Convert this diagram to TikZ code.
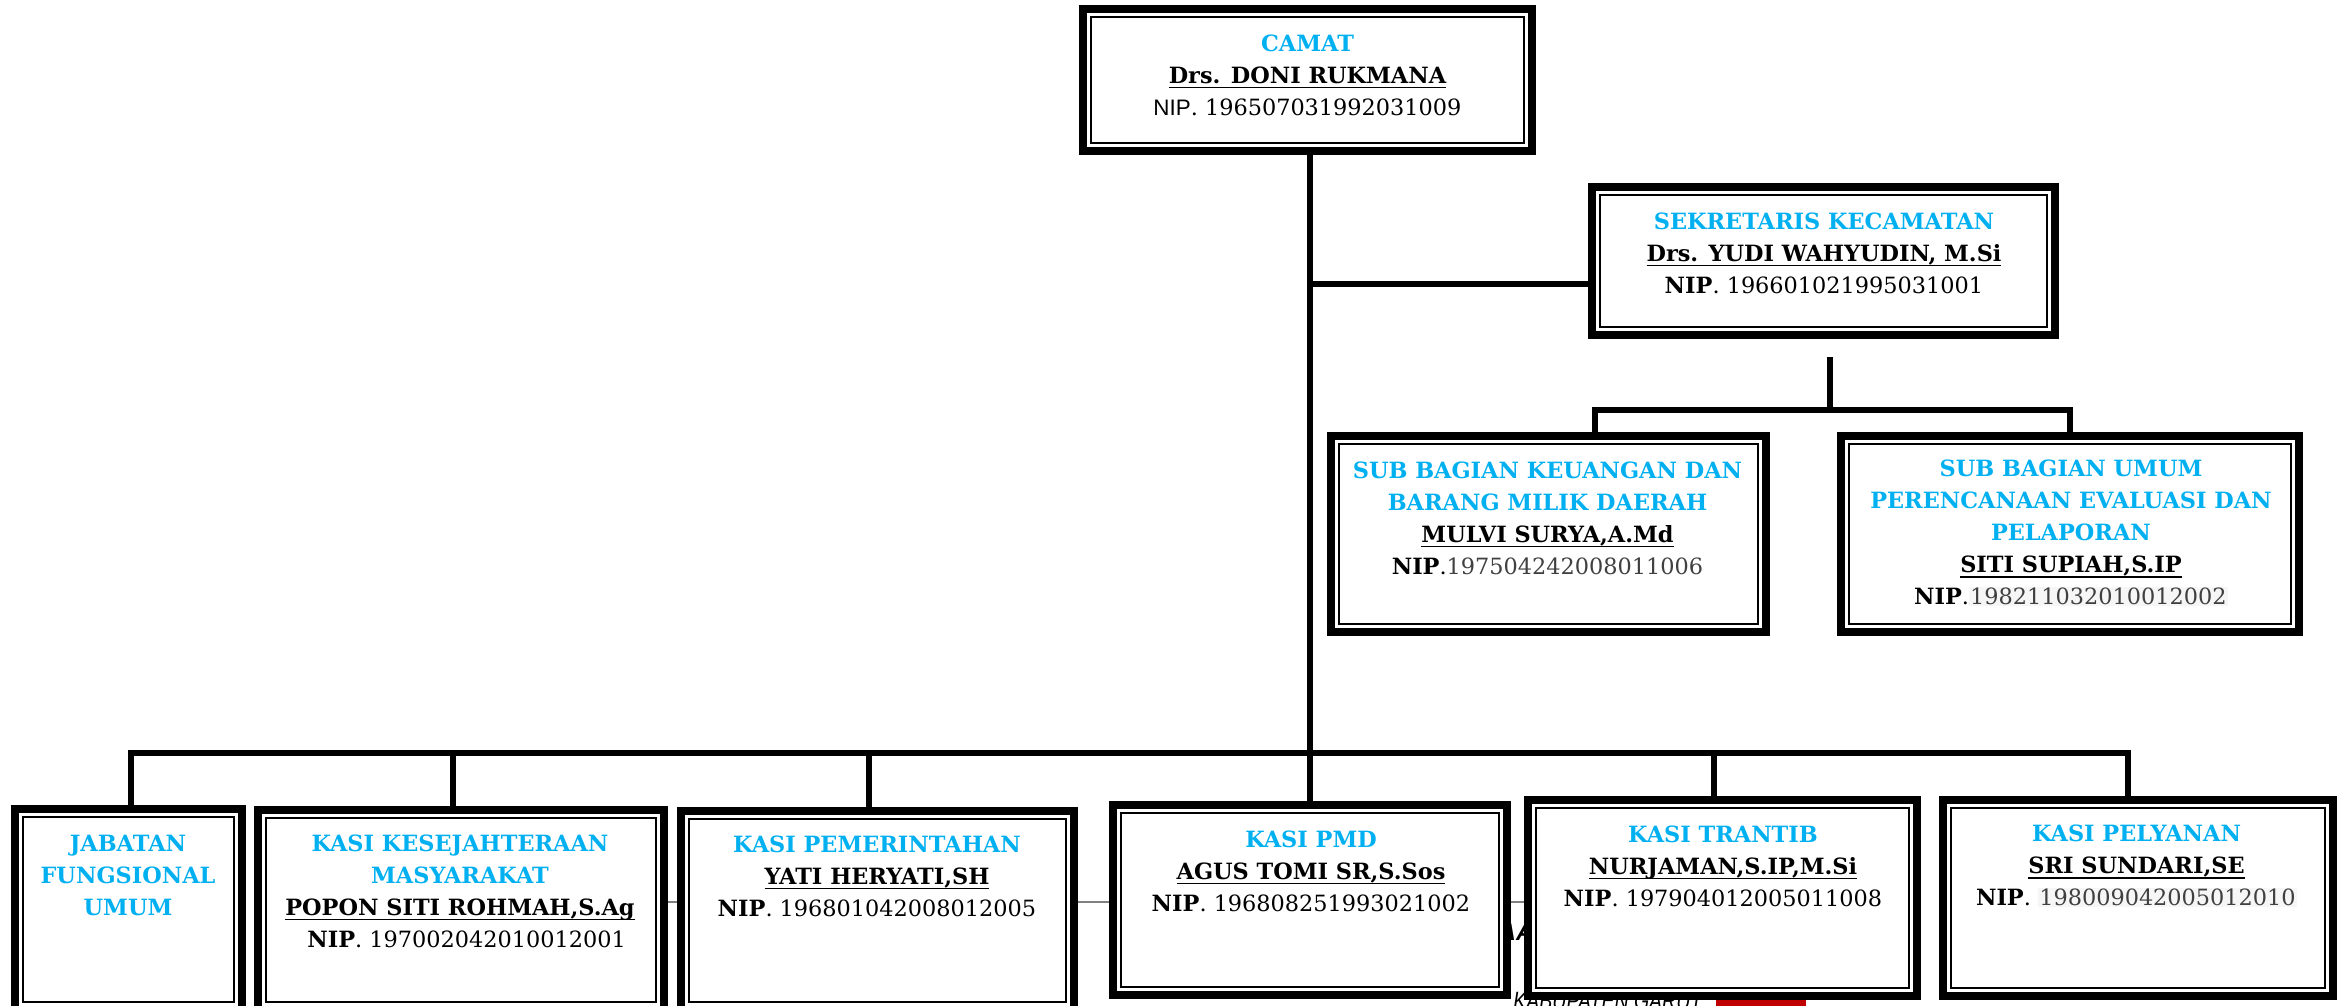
\documentclass[tikz,border=0pt]{standalone}
\usepackage{fontspec}
\setmainfont{DejaVu Serif}
\newfontfamily\arialf{Liberation Sans}
\usepackage{xcolor}
\definecolor{jb}{HTML}{00B0F0}
\definecolor{dg}{HTML}{404040}
\definecolor{hl}{HTML}{F6F6F6}
\definecolor{kred}{HTML}{C00000}
\pgfdeclarelayer{bg}
\pgfsetlayers{bg,main}
\newcommand{\uln}[1]{\leavevmode\setbox0\hbox{#1}\rlap{\rule[-2.6pt]{\wd0}{0.9pt}}\box0}
\newcommand{\ttl}[1]{\textcolor{jb}{\bfseries #1}}
\newcommand{\nm}[1]{\uln{\bfseries #1}}
\newcommand{\gd}[1]{\textcolor{dg}{#1}}
\newcommand{\hd}[1]{{\setlength{\fboxsep}{0.6pt}\colorbox{hl}{\textcolor{dg}{#1}}}}
\tikzset{
  orgbox/.style={draw, line width=4pt, fill=white, inner sep=0pt, outer sep=0pt},
  innerline/.style={line width=1pt},
  conn/.style={line width=3pt, line join=miter},
  txt/.style={align=center, inner sep=0pt, font=\fontsize{11.2}{16}\selectfont},
}
\newcommand\obox[5]{%
  \pgfmathsetmacro\obw{(#4-#2-8)*0.5}%
  \pgfmathsetmacro\obh{(#5-#3-8)*0.5}%
  \node[orgbox, minimum width=\obw pt, minimum height=\obh pt] (#1) at ({(#2+#4)/2},{(#3+#5)/2}) {};
  \draw[innerline] ([shift={(8,8)}]#1.north west) rectangle ([shift={(-8,-8)}]#1.south east);
}
\begin{document}
\begin{tikzpicture}[x=0.5pt,y=-0.5pt]
\useasboundingbox (0,0) rectangle (2341,1006);
\begin{pgfonlayer}{bg}
  \fill[white] (0,0) rectangle (2341,1006);
\end{pgfonlayer}

% boxes
\obox{camat}{1079}{5}{1536}{155}
\obox{sekr}{1588}{183}{2059}{339}
\obox{keu}{1327}{432}{1770}{636}
\obox{umum}{1837}{432}{2303}{636}
\obox{jab}{11}{805}{246}{1014}
\obox{kes}{254}{806}{668}{1014}
\obox{pem}{677}{807}{1078}{1014}
\obox{pmd}{1109}{801}{1511}{999}
\obox{tra}{1524}{796}{1921}{1000}
\obox{pel}{1939}{796}{2337}{1000}

% texts
\node[txt] (camat-t) at (1307.5,75) {\ttl{CAMAT}\\ \nm{Drs. DONI RUKMANA}\\ {\arialf NIP}. 196507031992031009};
\node[txt] (sekr-t) at (1824,253) {\ttl{SEKRETARIS KECAMATAN}\\ \nm{Drs. YUDI WAHYUDIN, M.Si}\\ \textbf{NIP}. 196601021995031001};
\node[txt] (keu-t) at (1547.5,518) {\ttl{SUB BAGIAN KEUANGAN DAN}\\ \ttl{BARANG MILIK DAERAH}\\ \nm{MULVI SURYA,A.Md}\\ \textbf{NIP}.\gd{197504242008011006}};
\node[txt] (umum-t) at (2071,533) {\ttl{SUB BAGIAN UMUM}\\ \ttl{PERENCANAAN EVALUASI DAN}\\ \ttl{PELAPORAN}\\ \nm{SITI SUPIAH,S.IP}\\ \textbf{NIP}.\hd{198211032010012002}};
\node[txt] (jab-t) at (128,875) {\ttl{JABATAN}\\ \ttl{FUNGSIONAL}\\ \ttl{UMUM}};
\node[txt] (kes-t) at (460,891) {\ttl{KASI KESEJAHTERAAN}\\ \ttl{MASYARAKAT}\\ \nm{POPON SITI ROHMAH,S.Ag}\\ \hspace*{0.6em}\textbf{NIP}. 197002042010012001};
\node[txt] (pem-t) at (877,876) {\ttl{KASI PEMERINTAHAN}\\ \nm{YATI HERYATI,SH}\\ \textbf{NIP}. 196801042008012005};
\node[txt] (pmd-t) at (1311,871) {\ttl{KASI PMD}\\ \nm{AGUS TOMI SR,S.Sos}\\ \textbf{NIP}. 196808251993021002};
\node[txt] (tra-t) at (1723,866) {\ttl{KASI TRANTIB}\\ \nm{NURJAMAN,S.IP,M.Si}\\ \textbf{NIP}. 197904012005011008};
\node[txt] (pel-t) at (2136.5,866) {\ttl{KASI PELYANAN}\\ \nm{SRI SUNDARI,SE}\\ \textbf{NIP}. \hd{198009042005012010}};

% background artefacts
\begin{pgfonlayer}{bg}
  \draw[gray, line width=1pt] (kes.east |- 0,902) -- (tra.west |- 0,902);
  \node[font=\arialf\fontsize{12}{12}\selectfont\bfseries\itshape, inner sep=0pt] (artA) at (1516,932) {AA};
  \node[anchor=north west, inner sep=0pt, font=\arialf\fontsize{12.5}{12.5}\selectfont\itshape] (kab) at (1513,992) {\scalebox{0.78}[1]{KABUPATEN GARUT}};
  \fill[kred] (1716,998) rectangle (1806,1010);
\end{pgfonlayer}

% connectors
\coordinate (tj) at (1310,284);
\draw[conn] (camat.south -| pmd.north) -- (pmd.north);
\draw[conn] (tj) -- (tj -| sekr.west);
\coordinate (ss) at (1830,357);
\coordinate (sb) at (1830,410);
\coordinate (sl) at (1595,410);
\coordinate (sr) at (2070,410);
\draw[conn] (ss) -- (sb);
\draw[conn] (sl |- keu.north) -- (sl) -- (sr) -- (sr |- umum.north);
\coordinate (b1) at (131,753);
\coordinate (b2) at (453,753);
\coordinate (b3) at (869,753);
\coordinate (b5) at (1714,753);
\coordinate (b6) at (2128,753);
\draw[conn] (b1 |- jab.north) -- (b1) -- (b6) -- (b6 |- pel.north);
\draw[conn] (b2) -- (b2 |- kes.north);
\draw[conn] (b3) -- (b3 |- pem.north);
\draw[conn] (b5) -- (b5 |- tra.north);
\end{tikzpicture}
\end{document}
